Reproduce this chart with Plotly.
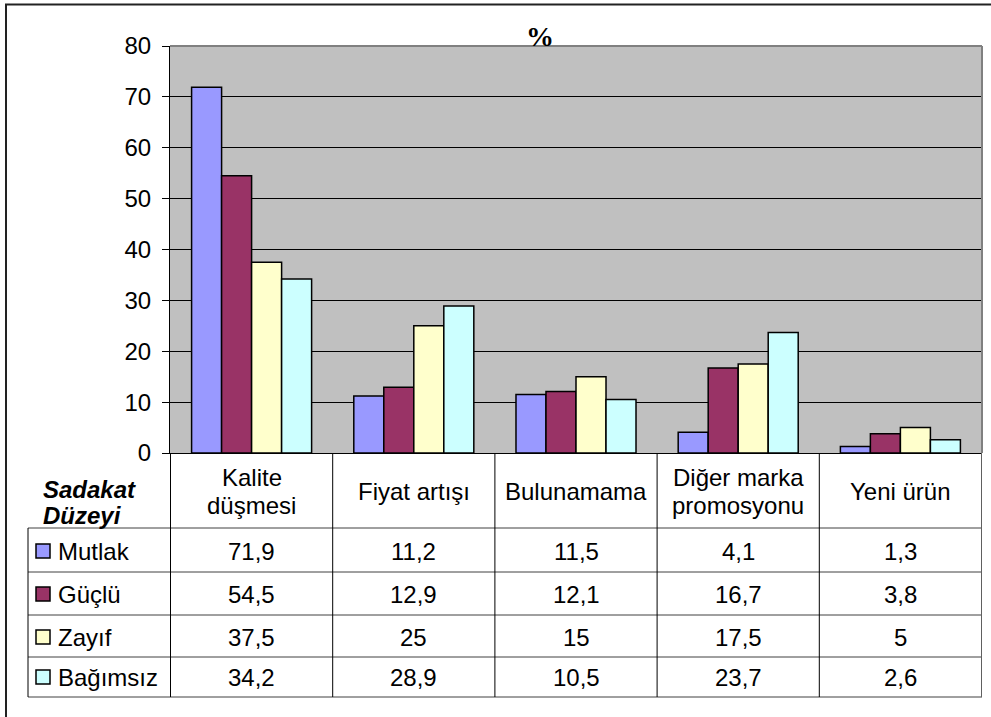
import plotly.graph_objects as go

# Reasons for brand switching by loyalty level (%)
categories = ["Kalite düşmesi", "Fiyat artışı", "Bulunamama", "Diğer marka promosyonu", "Yeni ürün"]
header_lines = [["Kalite", "düşmesi"], ["Fiyat artışı"], ["Bulunamama"],
                ["Diğer marka", "promosyonu"], ["Yeni ürün"]]
series_names = ["Mutlak", "Güçlü", "Zayıf", "Bağımsız"]
mutlak = [71.9, 11.2, 11.5, 4.1, 1.3]
guclu = [54.5, 12.9, 12.1, 16.7, 3.8]
zayif = [37.5, 25, 15, 17.5, 5]
bagimsiz = [34.2, 28.9, 10.5, 23.7, 2.6]
series_values = [mutlak, guclu, zayif, bagimsiz]
colors = ["#9999FF", "#993366", "#FFFFCC", "#CCFFFF"]
y_ticks = [0, 10, 20, 30, 40, 50, 60, 70, 80]

W, H = 991, 717
L, R, T, B = 170, 9, 46, 264
PW, PH = W - L - R, H - T - B

def px_x(px):
    return (px - L) / PW

def px_y(py):
    return (H - B - py) / PH

def fmt(v):
    return f"{v:g}".replace(".", ",")

FONT = "Liberation Sans, Arial, sans-serif"
FS = 24

def txt(x, y, text, xref="x", xanchor="center", size=FS, family=FONT):
    return dict(x=x, y=y, xref=xref, yref="paper", text=text, showarrow=False,
                xanchor=xanchor, yanchor="middle",
                font=dict(size=size, color="black", family=family))

fig = go.Figure()
for name, vals, col in zip(series_names, series_values, colors):
    fig.add_trace(go.Bar(
        name=name, x=categories, y=vals,
        marker=dict(color=col, line=dict(color="black", width=1.5)),
        showlegend=False, hoverinfo="skip",
    ))

shapes = []
annotations = []

# outer chart frame
shapes.append(dict(type="rect", xref="paper", yref="paper",
                   x0=px_x(6), x1=px_x(1100), y0=px_y(900), y1=px_y(4.5),
                   line=dict(color="#222", width=2), layer="below"))
# plot-area top / right border
shapes.append(dict(type="line", xref="paper", yref="paper", x0=0, x1=1, y0=1, y1=1,
                   line=dict(color="#808080", width=2)))
shapes.append(dict(type="line", xref="paper", yref="paper", x0=1, x1=1, y0=0, y1=1,
                   line=dict(color="#808080", width=2)))

# data table grid
row_lines = [528, 572, 615, 657, 697]
for py in row_lines:
    shapes.append(dict(type="line", xref="paper", yref="paper",
                       x0=px_x(28), x1=1, y0=px_y(py), y1=px_y(py),
                       line=dict(color="#404040", width=1)))
for i in range(len(categories) + 1):
    shapes.append(dict(type="line", xref="x", yref="paper",
                       x0=i - 0.5, x1=i - 0.5, y0=0, y1=px_y(697),
                       line=dict(color="black" if i < len(categories) else "#606060", width=1)))
shapes.append(dict(type="line", xref="paper", yref="paper",
                   x0=px_x(28), x1=px_x(28), y0=px_y(528), y1=px_y(697),
                   line=dict(color="black", width=1)))

# column headers
for cat, lines in zip(categories, header_lines):
    if len(lines) == 1:
        annotations.append(txt(cat, px_y(491), lines[0]))
    else:
        annotations.append(txt(cat, px_y(477), lines[0]))
        annotations.append(txt(cat, px_y(505), lines[1]))
annotations.append(txt(px_x(41), px_y(490), "<b><i>Sadakat</i></b>", xref="paper", xanchor="left"))
annotations.append(txt(px_x(41), px_y(515), "<b><i>Düzeyi</i></b>", xref="paper", xanchor="left"))

# rows: legend key + values
row_centers = [551, 594, 637, 677]
for name, vals, col, cy in zip(series_names, series_values, colors, row_centers):
    shapes.append(dict(type="rect", xref="paper", yref="paper",
                       x0=px_x(36), x1=px_x(50), y0=px_y(cy + 7), y1=px_y(cy - 7),
                       fillcolor=col, line=dict(color="black", width=1.5)))
    annotations.append(txt(px_x(56), px_y(cy), name, xref="paper", xanchor="left"))
    for cat, v in zip(categories, vals):
        annotations.append(txt(cat, px_y(cy), fmt(v)))

# title
annotations.append(txt(px_x(540), px_y(37), "<b>%</b>", xref="paper", size=28,
                       family="Liberation Serif, Times New Roman, serif"))

fig.update_layout(
    width=W, height=H,
    margin=dict(l=L, r=R, t=T, b=B, pad=0),
    paper_bgcolor="white", plot_bgcolor="#C0C0C0",
    barmode="group", bargap=0.26, bargroupgap=0,
    shapes=shapes, annotations=annotations,
    xaxis=dict(showticklabels=False, ticks="", showgrid=False, showline=True,
               linecolor="black", linewidth=1, zeroline=False, fixedrange=True),
    yaxis=dict(range=[0, 80], tickvals=y_ticks, ticks="outside", ticklen=7, tickcolor="black",
               showgrid=True, gridcolor="black", gridwidth=1, showline=True, linecolor="black",
               linewidth=1, zeroline=False, tickfont=dict(size=FS, color="black", family=FONT),
               ticklabelstandoff=6),
)

fig.write_html("out.html")
